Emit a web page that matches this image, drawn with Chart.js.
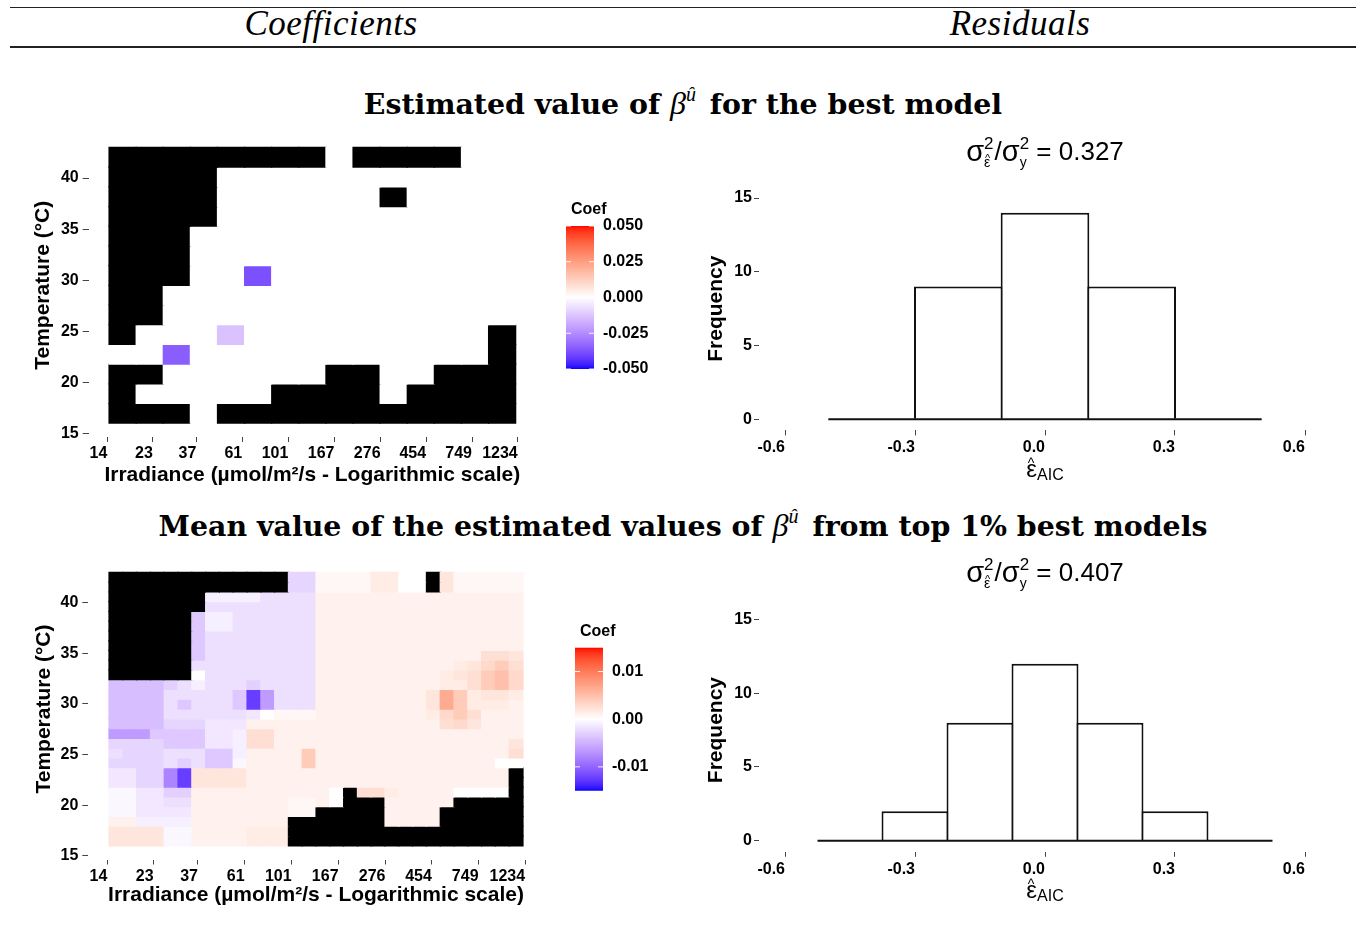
<!DOCTYPE html>
<html lang="en">
<head>
<meta charset="utf-8">
<title>Coefficients and residuals</title>
<script src="https://cdn.jsdelivr.net/npm/chart.js@4.4.1/dist/chart.umd.min.js"></script>
<style>
  html, body { margin: 0; padding: 0; background: #fff; }
  body { width: 1359px; height: 925px; position: relative; overflow: hidden; }
  canvas { position: absolute; }
  .rule { position: absolute; left: 10px; width: 1346px; background: #222; }
  .head { position: absolute; font-family: "Liberation Serif", serif; font-style: italic; font-size: 35px;
          line-height: 40px; letter-spacing: 0.5px; transform: translateX(-50%); white-space: nowrap; }
  .title { position: absolute; left: 683px; font-family: "DejaVu Serif", serif; font-weight: bold; font-size: 28.4px;
           line-height: 34px; transform: translateX(-50%); white-space: nowrap; }
  .title .beta { font-family: "Liberation Serif", serif; font-weight: normal; font-style: italic; font-size: 32px; }
  .title sup { font-family: "Liberation Serif", serif; font-weight: normal; font-style: italic; font-size: 20px;
               vertical-align: baseline; position: relative; top: -13px; margin-right: 4px; }
</style>
</head>
<body>
<div class="rule" style="top:7px;height:1px"></div>
<div class="head" style="left:331px;top:4px">Coefficients</div>
<div class="head" style="left:1020px;top:4px">Residuals</div>
<div class="rule" style="top:46px;height:2px"></div>

<div class="title" style="top:86px">Estimated value of <span class="beta">β</span><sup>û</sup> for the best model</div>
<div class="title" style="top:508px">Mean value of the estimated values of <span class="beta">β</span><sup>û</sup> from top 1% best models</div>

<canvas id="heatBest" width="700" height="390" style="left:0;top:120px"></canvas>
<canvas id="histBest" width="669" height="390" style="left:690px;top:120px"></canvas>
<canvas id="heatMean" width="700" height="380" style="left:0;top:545px"></canvas>
<canvas id="histMean" width="669" height="380" style="left:690px;top:545px"></canvas>

<script>
Chart.defaults.font.family = '"Liberation Sans", Arial, sans-serif';
Chart.defaults.color = '#000';

// grid bins: irradiance (µmol/m²/s, log spaced) and temperature (°C)
const irradianceEdges = [14.26, 19.17, 25.78, 34.64, 46.57, 62.59, 84.17, 113.1, 152.1, 204.4, 274.8, 369.4, 496.6, 667.4, 897.4, 1206];
const temperatureEdges = [16, 17.93, 19.86, 21.79, 23.71, 25.64, 27.57, 29.5, 31.43, 33.36, 35.29, 37.21, 39.14, 41.07, 43];
const irradianceTicks = [14, 23, 37, 61, 101, 167, 276, 454, 749, 1234];
const temperatureTicks = [15, 20, 25, 30, 35, 40];

// coefficients of the best model, warmest band first (null = not estimated)
const NA = null;
const bestCoef = [
  [NA, NA, NA, NA, NA, NA, NA, NA, 0, NA, NA, NA, NA, 0, 0],
  [NA, NA, NA, NA, 0, 0, 0, 0, 0, 0, 0, 0, 0, 0, 0],
  [NA, NA, NA, NA, 0, 0, 0, 0, 0, 0, NA, 0, 0, 0, 0],
  [NA, NA, NA, NA, 0, 0, 0, 0, 0, 0, 0, 0, 0, 0, 0],
  [NA, NA, NA, 0, 0, 0, 0, 0, 0, 0, 0, 0, 0, 0, 0],
  [NA, NA, NA, 0, 0, 0, 0, 0, 0, 0, 0, 0, 0, 0, 0],
  [NA, NA, NA, 0, 0, -0.038, 0, 0, 0, 0, 0, 0, 0, 0, 0],
  [NA, NA, 0, 0, 0, 0, 0, 0, 0, 0, 0, 0, 0, 0, 0],
  [NA, NA, 0, 0, 0, 0, 0, 0, 0, 0, 0, 0, 0, 0, 0],
  [NA, 0, 0, 0, -0.013, 0, 0, 0, 0, 0, 0, 0, 0, 0, NA],
  [0, 0, -0.035, 0, 0, 0, 0, 0, 0, 0, 0, 0, 0, 0, NA],
  [NA, NA, 0, 0, 0, 0, 0, 0, NA, NA, 0, 0, NA, NA, NA],
  [NA, 0, 0, 0, 0, 0, NA, NA, NA, NA, 0, NA, NA, NA, NA],
  [NA, NA, NA, 0, NA, NA, NA, NA, NA, NA, NA, NA, NA, NA, NA]
];
const bestLimit = 0.05;
const bestLegendTicks = [0.05, 0.025, 0, -0.025, -0.05];

// mean coefficient over the top 1% models on the half-step grid, warmest band first
// '#' = not estimated, '0' = zero, other letters -> meanLevels
const meanLevels = {
  a: -0.0005, b: -0.001, c: -0.0015, d: -0.002, e: -0.0027, f: -0.003, g: -0.0035, h: -0.0042,
  i: -0.0065, j: -0.008, k: -0.0125,
  A: 0.0006, B: 0.001, C: 0.0015, D: 0.002, E: 0.0025, F: 0.003, G: 0.004, H: 0.005, I: 0.0065
};
const meanCoefRows = [
  "#############eeAAAACC00#DAAAAA",
  "#############eeAAAACC00#DAAAAA",
  "#######bbbbddddBBBBBBBBBBBBBBB",
  "#######ddddddddBBBBBBBBBBBBBBB",
  "######gbbddddddBBBBBBBBBBBBBBB",
  "######gbbddddddBBBBBBBBBBBBBBB",
  "######gddddddddBBBBBBBBBBBBBBB",
  "######gddddddddBBBBBBBBBBBBBBB",
  "######gddddddddBBBBBBBBBBBBEED",
  "######dddddddddBBBBBBBBBBCDFGE",
  "######0ddddddddBBBBBBBBBCDEGHF",
  "hhhhfdbdddfddddBBBBBBBBBCCEGHF",
  "hhhhdddddgkidddBBBBBBBBDIGCDDC",
  "hhhhdgdddgkidddBBBBBBBBDIGCCCB",
  "hhhhddddddc0AAABBBBBBBBCFGEBBB",
  "hhhheeeccc" + "BBBBBBBBBBBBBBEFDBBB",
  "iiiggggccbEEBBBBBBBBBBBBBBBBBB",
  "eeeeggg" + "ccbEEBBBBBBBBBBBBBBBBBD",
  "deeedddggbBBBBGBBBBBBBBBBBBBBE",
  "eeeedfdggaBBBBGBBBBBBBBBBBBB00",
  "cceejkDDDDBBBBBBBBBBBBBBBBBBB#",
  "cceejkDDDDBBBBBBBBBBBBBBBBBBB#",
  "aaccffBBBBBBBBBB0#EECBBBB0000#",
  "aaccddBBBBBBBAAB0###BBBBB#####",
  "aaccccBBBBBBBAA#####BBBB######",
  "BBbbbbBBBBBBB#######BBBB######",
  "DDDDaaBBBBCCC#################",
  "DDDDaaBBBBCCC#################"
];
const meanLimit = 0.015;
const meanLegendTicks = [0.01, 0, -0.01];

// residual histograms
const bestResidualEdges = [-0.5, -0.3, -0.1, 0.1, 0.3, 0.5];
const bestResidualCounts = [0, 9, 14, 9, 0];
const bestVarianceRatio = 0.327;
const meanResidualEdges = [-0.525, -0.375, -0.225, -0.075, 0.075, 0.225, 0.375, 0.525];
const meanResidualCounts = [0, 2, 8, 12, 8, 2, 0];
const meanVarianceRatio = 0.407;
const residualTicks = [-0.6, -0.3, 0, 0.3, 0.6];
const frequencyTicks = [0, 5, 10, 15];

// ---- diverging blue-white-red scale, interpolated in Lab like scales::div_gradient_pal ----
function rgbToLab(rgb) {
  const lin = rgb.map(c => { c /= 255; return c <= 0.04045 ? c / 12.92 : Math.pow((c + 0.055) / 1.055, 2.4); });
  const X = (0.4124 * lin[0] + 0.3576 * lin[1] + 0.1805 * lin[2]) / 0.95047;
  const Y = 0.2126 * lin[0] + 0.7152 * lin[1] + 0.0722 * lin[2];
  const Z = (0.0193 * lin[0] + 0.1192 * lin[1] + 0.9505 * lin[2]) / 1.08883;
  const f = t => t > 0.008856 ? Math.cbrt(t) : 7.787 * t + 16 / 116;
  return [116 * f(Y) - 16, 500 * (f(X) - f(Y)), 200 * (f(Y) - f(Z))];
}
function labToRgb([L, a, b]) {
  const fy = (L + 16) / 116, fx = fy + a / 500, fz = fy - b / 200;
  const inv = t => t * t * t > 0.008856 ? t * t * t : (t - 16 / 116) / 7.787;
  const X = 0.95047 * inv(fx), Y = inv(fy), Z = 1.08883 * inv(fz);
  const lin = [3.2406 * X - 1.5372 * Y - 0.4986 * Z, -0.9689 * X + 1.8758 * Y + 0.0415 * Z, 0.0557 * X - 0.2040 * Y + 1.0570 * Z];
  return lin.map(c => {
    c = Math.min(1, Math.max(0, c));
    return Math.round(255 * (c <= 0.0031308 ? 12.92 * c : 1.055 * Math.pow(c, 1 / 2.4) - 0.055));
  });
}
const LAB_LOW = rgbToLab([0, 0, 255]);
const LAB_MID = rgbToLab([255, 255, 255]);
const LAB_HIGH = rgbToLab([255, 0, 0]);

function coefColour(v, limit) {
  if (v === null || v === undefined) return '#000';
  const t = Math.max(-1, Math.min(1, v / limit));
  const end = t < 0 ? LAB_LOW : LAB_HIGH;
  const f = Math.abs(t);
  const [r, g, b] = labToRgb(LAB_MID.map((m, i) => m + (end[i] - m) * f));
  return `rgb(${r},${g},${b})`;
}

// ---- helpers ----
const tickFont = { size: 16, weight: 'bold' };
const titleFont = { size: 21, weight: 'bold' };
const tickMarks = len => ({ drawOnChartArea: false, drawTicks: true, tickLength: len, color: '#444', lineWidth: 1, offset: false });
const fixedTicks = values => scale => { scale.ticks = values.map(value => ({ value })); };

// one floating-bar dataset per temperature band, one bar per irradiance bin
function cellDatasets(rows, xEdges, yEdges, valueAt, limit) {
  const nRows = yEdges.length - 1;
  return rows.map((row, r) => {
    const lo = yEdges[nRows - 1 - r];
    const hi = yEdges[nRows - r];
    return {
      data: xEdges.slice(1).map((e, c) => ({ x: Math.sqrt(xEdges[c] * e), y: [lo, hi], v: valueAt(row, c) })),
      backgroundColor: ctx => coefColour(ctx.raw ? ctx.raw.v : null, limit)
    };
  });
}

function colourBar(cfg) {
  return {
    id: 'colourBar',
    afterDraw(chart) {
      const { ctx } = chart;
      const { x, y, w, h, limit, ticks, digits } = cfg;
      ctx.save();
      for (let i = 0; i < h; i++) {
        ctx.fillStyle = coefColour(limit - (i + 0.5) / h * 2 * limit, limit);
        ctx.fillRect(x, y + i, w, Math.min(1.5, h - i));
      }
      ctx.strokeStyle = 'rgba(255,255,255,0.9)';
      ctx.lineWidth = 1;
      ctx.font = 'bold 16px "Liberation Sans", Arial, sans-serif';
      ctx.fillStyle = '#000';
      ctx.textBaseline = 'middle';
      ctx.textAlign = 'left';
      ticks.forEach(v => {
        const py = y + (limit - v) / (2 * limit) * h;
        ctx.beginPath();
        ctx.moveTo(x, py); ctx.lineTo(x + 5, py);
        ctx.moveTo(x + w - 5, py); ctx.lineTo(x + w, py);
        ctx.stroke();
        ctx.fillText(v.toFixed(digits), x + w + 9, py);
      });
      ctx.fillText('Coef', x + 5, y - 16);
      ctx.restore();
    }
  };
}

function heatmap(id, datasets, box, legend) {
  const xPad = Math.pow(irradianceEdges[irradianceEdges.length - 1] / irradianceEdges[0], 0.05);
  const yPad = (temperatureEdges[temperatureEdges.length - 1] - temperatureEdges[0]) * 0.05;
  return new Chart(document.getElementById(id), {
    type: 'bar',
    data: { datasets },
    options: {
      responsive: false,
      animation: false,
      events: [],
      layout: { padding: box.padding },
      plugins: { legend: { display: false }, tooltip: { enabled: false } },
      datasets: { bar: { grouped: false, categoryPercentage: 1, barPercentage: 1, inflateAmount: 0.6, borderWidth: 0 } },
      scales: {
        x: {
          type: 'logarithmic',
          offset: false,
          min: irradianceEdges[0] / xPad,
          max: irradianceEdges[irradianceEdges.length - 1] * xPad,
          afterBuildTicks: fixedTicks(irradianceTicks),
          afterFit: s => { s.height = 55; },
          border: { display: false },
          grid: tickMarks(5),
          ticks: { font: tickFont, align: 'end', autoSkip: false, maxRotation: 0, minRotation: 0, padding: 2, callback: v => String(v) },
          title: { display: true, text: 'Irradiance (µmol/m²/s - Logarithmic scale)', font: titleFont, padding: { top: 0, bottom: box.xTitlePad } }
        },
        y: {
          min: temperatureEdges[0] - yPad,
          max: temperatureEdges[temperatureEdges.length - 1] + yPad,
          afterBuildTicks: fixedTicks(temperatureTicks),
          afterFit: s => { s.width = box.yWidth; },
          border: { display: false },
          grid: tickMarks(6),
          ticks: { font: tickFont, padding: 4 },
          title: { display: true, text: 'Temperature (°C)', font: titleFont, padding: { top: box.yTitlePad, bottom: 0 } }
        }
      }
    },
    plugins: [colourBar(legend)]
  });
}

// σ²(ε̂) / σ²(y) = r, centred on cx
function drawRatio(ctx, cx, baseY, ratio) {
  const fam = '"Liberation Sans", Arial, sans-serif';
  const sigma = '29px ' + fam, big = '26px ' + fam, sup = '17px ' + fam, sub = '14px ' + fam, hat = '11px ' + fam;
  const rest = ' = ' + ratio.toFixed(3);
  const w = (f, s) => { ctx.font = f; return ctx.measureText(s).width; };
  ctx.save();
  ctx.fillStyle = '#000';
  ctx.textBaseline = 'alphabetic';
  ctx.textAlign = 'left';
  const sig = w(sigma, 'σ'), slash = w(big, '/'), restW = w(big, rest);
  const idx1 = Math.max(w(sup, '2'), w(sub, 'ε')) + 1;
  const idx2 = Math.max(w(sup, '2'), w(sub, 'y'));
  let x = cx - (sig + idx1 + slash + sig + idx2 + restW) / 2;
  ctx.font = sigma; ctx.fillText('σ', x, baseY + 1); x += sig;
  ctx.font = sup; ctx.fillText('2', x, baseY - 11);
  ctx.font = sub; ctx.fillText('ε', x, baseY + 7);
  ctx.font = hat; ctx.fillText('^', x + 1, baseY + 2);
  x += idx1;
  ctx.font = big; ctx.fillText('/', x, baseY); x += slash;
  ctx.font = sigma; ctx.fillText('σ', x, baseY + 1); x += sig;
  ctx.font = sup; ctx.fillText('2', x, baseY - 11);
  ctx.font = sub; ctx.fillText('y', x, baseY + 7);
  x += idx2;
  ctx.font = big; ctx.fillText(rest, x, baseY);
  ctx.restore();
}

// ε̂ with subscript AIC
function drawEpsilonAIC(ctx, cx, baseY) {
  const fam = '"Liberation Sans", Arial, sans-serif';
  const w = (f, s) => { ctx.font = f; return ctx.measureText(s).width; };
  ctx.save();
  ctx.fillStyle = '#000';
  ctx.textBaseline = 'alphabetic';
  ctx.textAlign = 'left';
  const ew = w('24px ' + fam, 'ε'), aw = w('16px ' + fam, 'AIC');
  let x = cx - (ew + aw) / 2;
  ctx.font = '24px ' + fam; ctx.fillText('ε', x, baseY);
  ctx.font = '14px ' + fam; ctx.fillText('^', x + 1.5, baseY - 9);
  ctx.font = '16px ' + fam; ctx.fillText('AIC', x + ew, baseY + 3);
  ctx.restore();
}

function residualText(ratio) {
  return {
    id: 'residualText',
    afterDraw(chart) {
      const { ctx, chartArea, scales } = chart;
      const cx = scales.x.getPixelForValue(0);
      drawRatio(ctx, cx, chartArea.top - 27, ratio);
      drawEpsilonAIC(ctx, cx, chartArea.bottom + 46.5);
    }
  };
}

function histogram(id, edges, counts, ratio, box) {
  const last = edges.length - 1;
  return new Chart(document.getElementById(id), {
    type: 'bar',
    data: {
      datasets: [
        { type: 'line', data: [{ x: edges[0], y: 0 }, { x: edges[last], y: 0 }], borderColor: '#111', borderWidth: 2, pointRadius: 0, order: 0 },
        {
          data: counts.map((n, i) => ({ x: (edges[i] + edges[i + 1]) / 2, y: n })),
          backgroundColor: '#fff', borderColor: '#111', borderWidth: 2, borderSkipped: 'start',
          grouped: false, categoryPercentage: 1, barPercentage: box.overlap, order: 1
        }
      ]
    },
    options: {
      responsive: false,
      animation: false,
      events: [],
      layout: { padding: box.padding },
      plugins: { legend: { display: false }, tooltip: { enabled: false } },
      scales: {
        x: {
          type: 'linear',
          offset: false,
          min: -0.66,
          max: 0.66,
          afterBuildTicks: fixedTicks(residualTicks),
          afterFit: s => { s.height = 40; },
          border: { display: false },
          grid: tickMarks(5),
          ticks: { font: tickFont, align: 'end', autoSkip: false, maxRotation: 0, minRotation: 0, padding: 3, callback: v => v.toFixed(1) }
        },
        y: {
          min: -0.75,
          max: 15.75,
          afterBuildTicks: fixedTicks(frequencyTicks),
          afterFit: s => { s.width = 69; },
          border: { display: false },
          grid: tickMarks(5),
          ticks: { font: tickFont, padding: 2 },
          title: { display: true, text: 'Frequency', font: titleFont, padding: { top: 13.4, bottom: 0 } }
        }
      }
    },
    plugins: [residualText(ratio)]
  });
}

// ---- build ----
const meanIrrEdges = irradianceEdges.flatMap((e, i) => i === 0 ? [e] : [Math.sqrt(irradianceEdges[i - 1] * e), e]);
const meanTempEdges = temperatureEdges.flatMap((e, i) => i === 0 ? [e] : [(temperatureEdges[i - 1] + e) / 2, e]);

heatmap('heatBest',
  cellDatasets(bestCoef, irradianceEdges, temperatureEdges, (row, c) => row[c], bestLimit),
  { padding: { left: 0, top: 13.5, right: 164, bottom: 18 }, yWidth: 88.7, yTitlePad: 30.4, xTitlePad: 4.4 },
  { x: 566, y: 106, w: 28, h: 143, limit: bestLimit, ticks: bestLegendTicks, digits: 3 });

heatmap('heatMean',
  cellDatasets(meanCoefRows, meanIrrEdges, meanTempEdges,
    (row, c) => row[c] === '#' ? null : row[c] === '0' ? 0 : meanLevels[row[c]], meanLimit),
  { padding: { left: 0, top: 10.2, right: 156.3, bottom: 10.5 }, yWidth: 88.3, yTitlePad: 31.4, xTitlePad: 6.9 },
  { x: 575, y: 102.7, w: 28, h: 143, limit: meanLimit, ticks: meanLegendTicks, digits: 2 });

histogram('histBest', bestResidualEdges, bestResidualCounts, bestVarianceRatio,
  { padding: { left: 0, top: 67, right: 28, bottom: 39.6 }, overlap: 1.023 });

histogram('histMean', meanResidualEdges, meanResidualCounts, meanVarianceRatio,
  { padding: { left: 0, top: 63.4, right: 28, bottom: 33.2 }, overlap: 1.03 });
</script>
</body>
</html>
